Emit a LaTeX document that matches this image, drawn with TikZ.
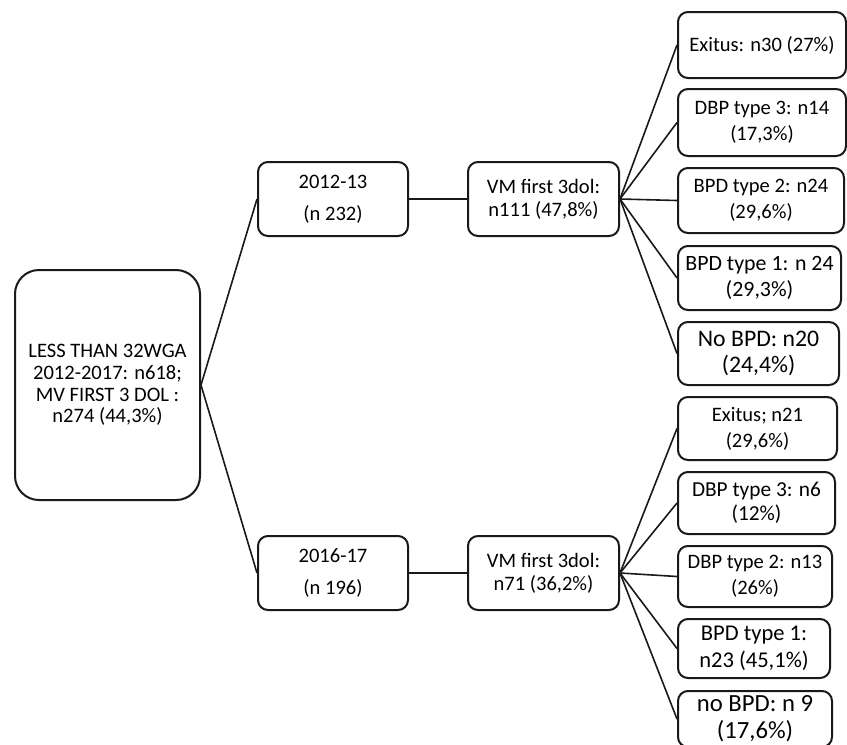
\documentclass[tikz,border=0pt]{standalone}
\usepackage{fontspec}
\setmainfont{Carlito}
\usetikzlibrary{positioning}

\begin{document}
\begin{tikzpicture}[x=0.75pt,y=-0.75pt,
    box/.style={draw=black!90,line width=1.5pt,rounded corners=7.5pt,align=center,inner sep=1pt,
      font=\fontsize{15.4pt}{17pt}\selectfont},
    outbox/.style={box,font=\fontsize{15.4pt}{19.5pt}\selectfont},
    link/.style={black!90,line width=1.2pt}]
  \useasboundingbox (0,0) rectangle (847,744);

  % root
  \node[box,rounded corners=18pt,minimum width=138.75pt,minimum height=172.5pt,
    font=\fontsize{15.4pt}{16.3pt}\selectfont] (root) at (107.5,385)
    {LESS THAN 32WGA\\2012-2017: n618;\\MV FIRST 3 DOL :\\n274 (44,3\%)};

  % periods
  \node[box,minimum width=112.5pt,minimum height=55.5pt] (p1) at (333,199) {2012-13\\[7pt](n 232)};
  \node[box,minimum width=112.5pt,minimum height=55.5pt] (p2) at (333,573) {2016-17\\[7pt](n 196)};
  \node[box,minimum width=113.25pt,minimum height=55.5pt] (vm1) at (543.5,199) {VM first 3dol:\\n111 (47,8\%)};
  \node[box,minimum width=113.25pt,minimum height=55.5pt] (vm2) at (543.5,573) {VM first 3dol:\\n71 (36,2\%)};

  % outcomes 2012-13
  \node[outbox,minimum width=126pt,minimum height=49.5pt] (u1) at (762,45) {Exitus: n30 (27\%)};
  \node[outbox,minimum width=126pt,minimum height=50.25pt] (u2) at (762,122.5) {DBP type 3: n14\\(17,3\%)};
  \node[outbox,minimum width=124.5pt,minimum height=48.75pt] (u3) at (761,200.5) {BPD type 2: n24\\(29,6\%)};
  \node[outbox,minimum width=122.25pt,minimum height=48pt,
    font=\fontsize{16.4pt}{19.5pt}\selectfont] (u4) at (759.5,278) {BPD type 1: n 24\\(29,3\%)};
  \node[outbox,minimum width=120.75pt,minimum height=47.25pt,
    font=\fontsize{17.8pt}{19.5pt}\selectfont] (u5) at (758.5,353.5) {No BPD: n20\\(24,4\%)};

  % outcomes 2016-17
  \node[outbox,minimum width=119.25pt,minimum height=47.25pt] (l1) at (757.5,428.5) {Exitus; n21\\(29,6\%)};
  \node[outbox,minimum width=117.75pt,minimum height=46.5pt,
    font=\fontsize{16pt}{18pt}\selectfont] (l2) at (756.5,503) {DBP type 3: n6\\(12\%)};
  \node[outbox,minimum width=115.5pt,minimum height=45.75pt] (l3) at (755,576.5) {DBP type 2: n13\\(26\%)};
  \node[outbox,minimum width=114pt,minimum height=44.25pt,
    font=\fontsize{16.9pt}{20pt}\selectfont] (l4) at (754,648.5) {BPD type 1:\\n23 (45,1\%)};
  \node[outbox,minimum width=115.5pt,minimum height=42pt,
    font=\fontsize{18.5pt}{20pt}\selectfont] (l5) at (755,719) {no BPD: n 9\\(17,6\%)};

  % connectors
  \draw[link] (root.east) -- (p1.west);
  \draw[link] (root.east) -- (p2.west);
  \draw[link] (p1) -- (vm1);
  \draw[link] (p2) -- (vm2);
  \foreach \k in {u1,u2,u3,u4,u5}
    \draw[link] (vm1.east) -- (\k.west);
  \foreach \k in {l1,l2,l3,l4,l5}
    \draw[link] (vm2.east) -- (\k.west);
\end{tikzpicture}
\end{document}
